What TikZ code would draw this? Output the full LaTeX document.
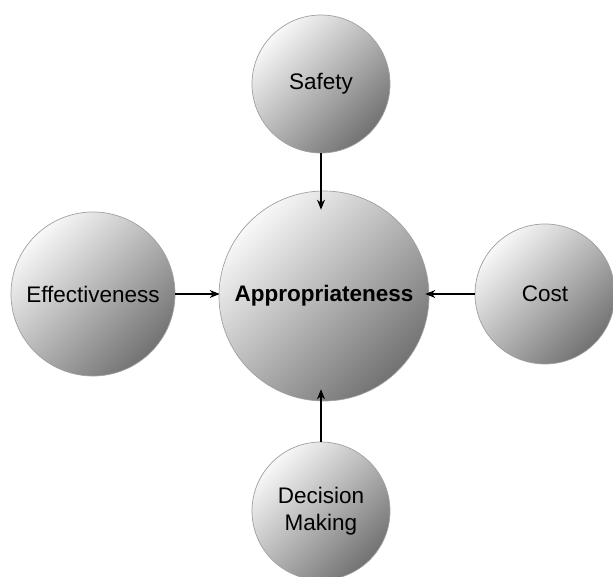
\documentclass[tikz,border=0pt]{standalone}
\usepackage{fontspec}
\setmainfont{Liberation Sans}
\usetikzlibrary{arrows.meta}
\definecolor{shTop}{HTML}{F8F8F8}
\definecolor{shMid}{HTML}{D8D8D8}
\definecolor{shBot}{HTML}{727272}
\definecolor{rimgray}{HTML}{A0A0A0}
\tikzset{
  ball/.style={circle, draw=rimgray, line width=0.7pt,
    top color=shTop, middle color=shMid, bottom color=shBot, shading angle=45,
    inner sep=0pt, align=center, font=\fontsize{22.5}{27}\selectfont},
  link/.style={line width=1.1pt, -{Stealth[length=10pt,width=8pt]}}
}
\begin{document}
\begin{tikzpicture}[x=1pt,y=-1pt]
\useasboundingbox (0,0) rectangle (613,577);
\node[ball, minimum size=210pt] (app) at (324,296) {\textbf{Appropriateness}};
\node[ball, minimum size=138pt] (safety) at (321,84) {Safety};
\node[ball, minimum size=164pt] (eff) at (93,294) {Effectiveness};
\node[ball, minimum size=140pt] (cost) at (545,294) {Cost};
\node[ball, minimum size=138pt] (dec) at (321,511) {Decision\\Making};
\draw[link, shorten >=-19pt] (safety.south) -- (safety.south |- app.north);
\draw[link, shorten >=-12pt] (dec.north) -- (dec.north |- app.south);
\draw[link, shorten >=-1pt] (eff.east) -- (eff.east -| app.west);
\draw[link, shorten >=-4pt] (cost.west) -- (cost.west -| app.east);
\end{tikzpicture}
\end{document}
